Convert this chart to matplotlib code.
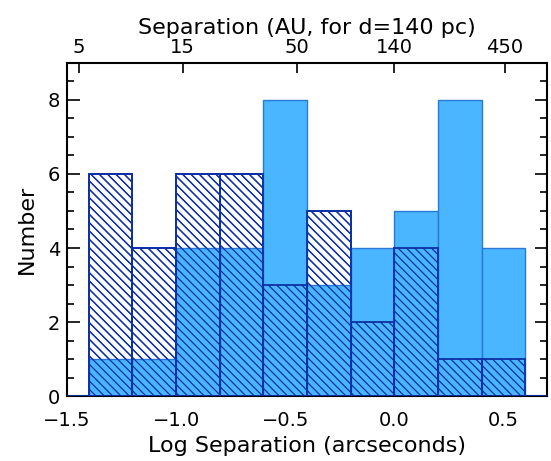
import numpy as np
import matplotlib
matplotlib.use("Agg")
import matplotlib.pyplot as plt
from matplotlib.ticker import MultipleLocator, FixedLocator

# Data
bin_edges = [-1.4, -1.2, -1.0, -0.8, -0.6, -0.4, -0.2, 0.0, 0.2, 0.4, 0.6]
filled_counts = [1, 1, 4, 4, 8, 3, 4, 5, 8, 4]     # light blue histogram
hatched_counts = [6, 4, 6, 6, 3, 5, 2, 4, 1, 1]    # hatched histogram
top_au_labels = [5, 15, 50, 140, 450]
distance_pc = 140
bottom_ticks = [-1.5, -1.0, -0.5, 0.0, 0.5]
bottom_tick_labels = ["\u22121.5", "\u22121.0", "\u22120.5", "0.0", "0.5"]

light = "#4AB6FF"
light_edge = "#2A78D8"
dark = "#0D2FA8"

plt.rcParams['font.family'] = ['DejaVu Sans']
plt.rcParams['hatch.linewidth'] = 0.9
plt.rcParams['xtick.direction'] = 'in'
plt.rcParams['ytick.direction'] = 'in'
plt.rcParams['xtick.major.pad'] = 11
plt.rcParams['ytick.major.pad'] = 5
plt.rcParams['xtick.labelsize'] = 14
plt.rcParams['ytick.labelsize'] = 14

rect = [67/551, 1-396/461, (547-67)/551, (396-63)/461]
fig = plt.figure(figsize=(5.51, 4.61), dpi=100)
ax = fig.add_axes(rect)

left = np.array(bin_edges[:-1])
widths = np.diff(bin_edges)

ax.bar(left, hatched_counts, width=widths, align='edge', color='white',
       edgecolor=dark, hatch='\\\\\\\\', linewidth=1.3, zorder=2)
ax.bar(left, filled_counts, width=widths, align='edge', color=light,
       edgecolor=light_edge, linewidth=1.0, zorder=3)
ax.bar(left, hatched_counts, width=widths, align='edge', fill=False,
       edgecolor=dark, hatch='\\\\\\\\', linewidth=1.3, zorder=4)
ax.axhline(0, color=dark, lw=2.0, zorder=5)

ax.set_xlim(-1.5, 0.7)
ax.set_ylim(0, 9)
ax.set_axisbelow(True)

ax.set_xticks(bottom_ticks)
ax.set_xticklabels(bottom_tick_labels)
ax.yaxis.set_major_locator(FixedLocator([0, 2, 4, 6, 8]))
ax.yaxis.set_minor_locator(MultipleLocator(0.5))
ax.tick_params(axis='y', which='both', left=True, right=True)
ax.tick_params(axis='y', which='major', length=9, width=1.2)
ax.tick_params(axis='y', which='minor', length=5, width=1.2)
ax.tick_params(axis='x', which='major', length=8, width=1.2, top=False)
for s in ax.spines.values():
    s.set_linewidth(1.5)

ax.set_xlabel("Log Separation (arcseconds)", fontsize=16, labelpad=4)
ax.set_ylabel("Number", fontsize=16, labelpad=8)

# Top axis in AU (separate overlay axes)
sec = fig.add_axes(rect, frameon=False)
sec.patch.set_visible(False)
sec.set_xlim(ax.get_xlim())
sec.set_yticks([])
sec.xaxis.tick_top()
sec.xaxis.set_label_position('top')
sec.set_xticks([np.log10(a / distance_pc) for a in top_au_labels])
sec.set_xticklabels([str(a) for a in top_au_labels])
sec.tick_params(axis='x', which='major', length=7, width=1.2, pad=4)
sec.set_xlabel("Separation (AU, for d=140 pc)", fontsize=16, labelpad=3)

fig.savefig("out.png", dpi=100)
